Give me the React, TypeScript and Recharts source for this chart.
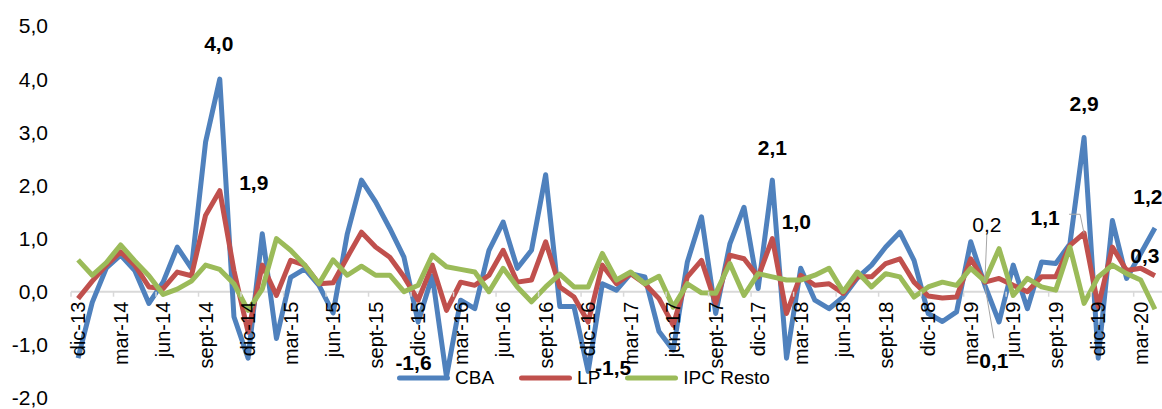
import { LineChart, Line, XAxis, YAxis, ReferenceLine, LabelList } from "recharts";

const MONTH_NAMES = ["ene", "feb", "mar", "abr", "may", "jun", "jul", "ago", "sept", "oct", "nov", "dic"];

// dic-13 ... abr-20
const MONTHS: string[] = [];
for (let k = 11; k <= 87; k++) {
  MONTHS.push(`${MONTH_NAMES[k % 12]}-${13 + Math.floor(k / 12)}`);
}

const CBA = [
  -1.25, -0.2, 0.45, 0.69, 0.4, -0.22, 0.18, 0.84, 0.44, 2.82, 4.0, -0.47,
  -1.25, 1.09, -0.88, 0.27, 0.43, 0.12, -0.4, 1.09, 2.1, 1.69, 1.19, 0.65,
  -0.57, 0.3, -1.6, -0.16, -0.32, 0.78, 1.31, 0.44, 0.78, 2.2, -0.28, -0.28,
  -1.5, 0.15, 0.03, 0.34, 0.28, -0.75, -1.1, 0.56, 1.41, -0.41, 0.9, 1.59,
  0.06, 2.1, -1.25, 0.44, -0.16, -0.32, -0.1, 0.26, 0.5, 0.84, 1.12, 0.59,
  -0.41, -0.56, -0.38, 0.94, 0.12, -0.57, 0.5, -0.32, 0.56, 0.53, 0.9, 2.9,
  -1.25, 1.34, 0.25, 0.72, 1.2,
];

const LP = [
  -0.13, 0.2, 0.5, 0.75, 0.5, 0.09, 0.06, 0.37, 0.3, 1.44, 1.9, 0.4,
  -0.76, 0.5, -0.07, 0.59, 0.5, 0.15, 0.17, 0.65, 1.12, 0.84, 0.65, 0.28,
  -0.16, 0.5, -0.35, 0.18, 0.12, 0.31, 0.78, 0.18, 0.22, 0.94, 0.09, -0.1,
  -0.57, 0.5, 0.15, 0.34, 0.15, -0.13, -0.63, 0.28, 0.59, -0.22, 0.69, 0.62,
  0.28, 1.0, -0.41, 0.31, 0.12, 0.15, -0.03, 0.28, 0.28, 0.53, 0.62, 0.18,
  -0.08, -0.12, -0.1, 0.62, 0.18, 0.25, 0.12, 0.0, 0.28, 0.28, 0.87, 1.1,
  -0.28, 0.84, 0.4, 0.44, 0.3,
];

const IPC_RESTO = [
  0.6, 0.31, 0.55, 0.88, 0.58, 0.3, -0.05, 0.05, 0.2, 0.5, 0.42, 0.15,
  -0.35, 0.05, 1.0, 0.78, 0.5, 0.15, 0.6, 0.31, 0.48, 0.31, 0.31, 0.0,
  0.12, 0.69, 0.47, 0.42, 0.37, 0.0, 0.44, 0.09, -0.19, 0.09, 0.33, 0.09,
  0.09, 0.72, 0.22, 0.37, 0.15, 0.29, -0.29, 0.15, -0.02, -0.03, 0.53, -0.07,
  0.34, 0.28, 0.22, 0.22, 0.31, 0.44, 0.0, 0.37, 0.09, 0.34, 0.28, -0.1,
  0.09, 0.18, 0.12, 0.44, 0.2, 0.81, -0.07, 0.25, 0.09, 0.03, 0.84, -0.22,
  0.28, 0.5, 0.34, 0.22, -0.33,
];

const Y_TICKS = [-2, -1, 0, 1, 2, 3, 4, 5];

const data = MONTHS.map((month, i) => ({
  month,
  cba: CBA[i],
  lp: LP[i],
  ipc: IPC_RESTO[i],
}));

const FONT = "'Liberation Sans', Arial, sans-serif";
const BLUE = "#4F81BD";
const RED = "#C0504D";
const GREEN = "#9BBB59";
const AXIS_GREY = "#D9D9D9";

const CHART_W = 1162;
const CHART_H = 409;
const X_AXIS_H = 1;
const MARGIN = { top: 26, right: 0, bottom: 10, left: 0 };
const Y_AXIS_W = 71;
const PLOT_W = CHART_W - Y_AXIS_W - MARGIN.left - MARGIN.right;
const PLOT_H = CHART_H - MARGIN.top - MARGIN.bottom - X_AXIS_H;
const BAND = PLOT_W / MONTHS.length;
const Y_MIN = Y_TICKS[0];
const Y_MAX = Y_TICKS[Y_TICKS.length - 1];
const ZERO_Y = MARGIN.top + (Y_MAX / (Y_MAX - Y_MIN)) * PLOT_H;

const fmt = (v: number) => v.toFixed(1).replace(".", ",");

type LabelCfg = { dx: number; dy: number; bold?: boolean; leader?: "up" | "down" | "elbow" };

// which points carry a data label, and where the text sits relative to the point
const CBA_LABELS: Record<number, LabelCfg> = {
  10: { dx: -1, dy: -36 },
  26: { dx: -33, dy: -14 },
  36: { dx: 25, dy: -4 },
  49: { dx: 0, dy: -33 },
  64: { dx: 9, dy: 75, leader: "down" },
  71: { dx: 0, dy: -34 },
  76: { dx: -7, dy: -31 },
};
const LP_LABELS: Record<number, LabelCfg> = {
  10: { dx: 34, dy: -8 },
  49: { dx: 24, dy: -17 },
  71: { dx: -39, dy: -16, leader: "elbow" },
  76: { dx: -10, dy: -20 },
};
const IPC_LABELS: Record<number, LabelCfg> = {
  64: { dx: 2, dy: -57, bold: false, leader: "up" },
};

const makeLabel = (cfg: Record<number, LabelCfg>) => (props: any) => {
  const { x, y, value, index } = props;
  const c = cfg[index];
  if (!c || x == null || y == null) return null;
  const lx = x + c.dx;
  const ly = y + c.dy;
  let leader = null;
  if (c.leader === "up") {
    leader = <line x1={lx} y1={ly + 10} x2={x} y2={y} stroke="#A6A6A6" strokeWidth={1} />;
  } else if (c.leader === "down") {
    leader = <line x1={x} y1={y} x2={lx} y2={ly - 22} stroke="#A6A6A6" strokeWidth={1} />;
  } else if (c.leader === "elbow") {
    leader = (
      <polyline
        points={`${lx + 24},${ly - 3} ${x - 4},${ly - 3} ${x},${y}`}
        fill="none"
        stroke="#A6A6A6"
        strokeWidth={1}
      />
    );
  }
  return (
    <g key={`lbl-${index}`}>
      {leader}
      <text
        x={lx}
        y={ly}
        textAnchor="middle"
        dominantBaseline="central"
        fontFamily={FONT}
        fontSize={21}
        fontWeight={c.bold === false ? "normal" : "bold"}
        fill="#000"
      >
        {fmt(Number(value))}
      </text>
    </g>
  );
};

function MonthTick(props: any) {
  const { x, payload } = props;
  const tx = x - BAND / 2;
  const ty = ZERO_Y + 10;
  return (
    <g>
      <line x1={tx} x2={tx} y1={ZERO_Y} y2={ZERO_Y + 5} stroke={AXIS_GREY} strokeWidth={1.5} />
      <text
        x={x}
        y={ty}
        transform={`rotate(-90 ${x} ${ty})`}
        textAnchor="end"
        dominantBaseline="central"
        fontFamily={FONT}
        fontSize={20}
        fill="#000"
      >
        {payload.value}
      </text>
    </g>
  );
}

const LEGEND = [
  { name: "CBA", color: BLUE },
  { name: "LP", color: RED },
  { name: "IPC Resto", color: GREEN },
];

export default function App() {
  return (
    <div style={{ position: "absolute", left: 0, top: 0, width: CHART_W, height: CHART_H, background: "#fff" }}>
      <LineChart width={CHART_W} height={CHART_H} data={data} margin={MARGIN}>
        <XAxis
          dataKey="month"
          height={X_AXIS_H}
          interval={2}
          axisLine={false}
          tickLine={false}
          padding={{ left: BAND / 2, right: BAND / 2 }}
          tick={<MonthTick />}
        />
        <YAxis
          width={Y_AXIS_W}
          domain={[Y_MIN, Y_MAX]}
          ticks={Y_TICKS}
          interval={0}
          axisLine={false}
          tickLine={false}
          tickMargin={17}
          tickFormatter={fmt}
          tick={{ fontFamily: FONT, fontSize: 21, fill: "#000" }}
        />
        <ReferenceLine y={0} stroke={AXIS_GREY} strokeWidth={2} />
        <Line
          dataKey="cba"
          name="CBA"
          stroke={BLUE}
          strokeWidth={5}
          strokeLinejoin="round"
          dot={false}
          isAnimationActive={false}
        >
          <LabelList dataKey="cba" content={makeLabel(CBA_LABELS)} />
        </Line>
        <Line
          dataKey="lp"
          name="LP"
          stroke={RED}
          strokeWidth={5}
          strokeLinejoin="round"
          dot={false}
          isAnimationActive={false}
        >
          <LabelList dataKey="lp" content={makeLabel(LP_LABELS)} />
        </Line>
        <Line
          dataKey="ipc"
          name="IPC Resto"
          stroke={GREEN}
          strokeWidth={5}
          strokeLinejoin="round"
          dot={false}
          isAnimationActive={false}
        >
          <LabelList dataKey="ipc" content={makeLabel(IPC_LABELS)} />
        </Line>
      </LineChart>
      <div
        style={{
          position: "absolute",
          left: 397,
          top: 366,
          display: "flex",
          alignItems: "center",
          fontFamily: FONT,
          fontSize: 19,
          color: "#000",
          whiteSpace: "nowrap",
        }}
      >
        {LEGEND.map((item, i) => (
          <div key={item.name} style={{ display: "flex", alignItems: "center", marginLeft: i === 0 ? 0 : 25 }}>
            <svg width={53} height={24} style={{ display: "block" }}>
              <line x1={2.5} x2={50.5} y1={12} y2={12} stroke={item.color} strokeWidth={5} strokeLinecap="round" />
            </svg>
            <span style={{ marginLeft: 5, lineHeight: "24px" }}>{item.name}</span>
          </div>
        ))}
      </div>
    </div>
  );
}
